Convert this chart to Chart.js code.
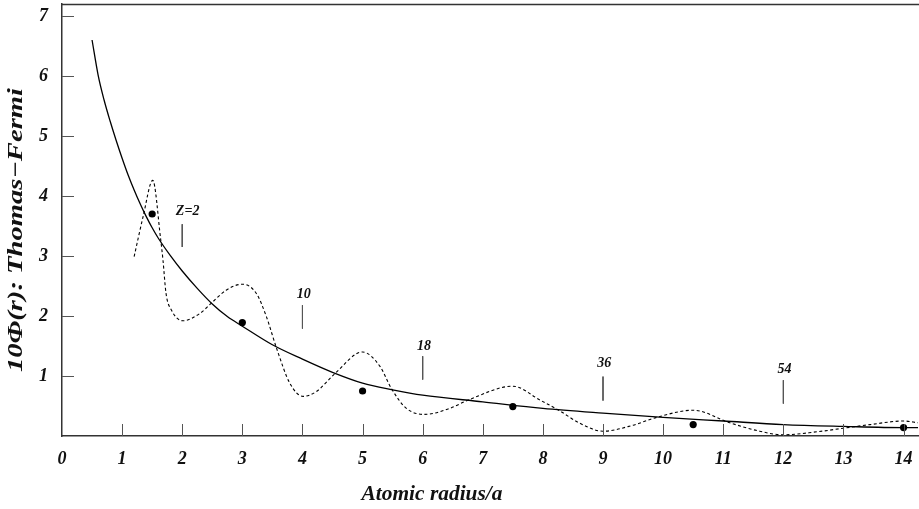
<!DOCTYPE html>
<html>
<head>
<meta charset="utf-8">
<script src="https://cdn.jsdelivr.net/npm/chart.js@4.4.1/dist/chart.umd.min.js"></script>
<style>
  html, body { margin: 0; padding: 0; background: #fff; }
</style>
</head>
<body>
<canvas id="chart" width="919" height="509"></canvas>
<script>
// Thomas-Fermi potential (solid)
const tfX = [0.5, 0.6, 0.7, 0.8, 0.9, 1.0, 1.1, 1.2, 1.3, 1.4, 1.5, 1.6, 1.8, 2.0, 2.25, 2.5, 2.75, 3.0, 3.5, 4.0, 4.5, 5.0, 5.5, 6.0, 7.0, 8.0, 9.0, 10.0, 11.0, 12.0, 13.0, 14.0, 14.24];
const tfY = [6.6, 6.02, 5.6, 5.25, 4.93, 4.63, 4.35, 4.1, 3.87, 3.66, 3.47, 3.3, 3.01, 2.75, 2.46, 2.2, 1.99, 1.83, 1.52, 1.28, 1.06, 0.88, 0.77, 0.68, 0.57, 0.46, 0.38, 0.31, 0.25, 0.19, 0.16, 0.14, 0.14];

// oscillating curve (dashed)
const oscX = [1.2, 1.35, 1.51, 1.64, 1.68, 1.73, 1.82, 2.01, 2.29, 2.48, 2.73, 3.0, 3.23, 3.4, 3.57, 3.79, 4.01, 4.23, 4.54, 5.0, 5.29, 5.48, 5.73, 6.03, 6.45, 6.76, 7.5, 7.95, 8.28, 8.6, 9.0, 9.5, 9.89, 10.5, 11.11, 11.56, 12.0, 12.56, 13.0, 13.44, 14.0, 14.24];
const oscY = [2.99, 3.66, 4.26, 3.29, 2.93, 2.38, 2.1, 1.92, 2.04, 2.21, 2.43, 2.53, 2.38, 1.99, 1.46, 0.88, 0.66, 0.74, 1.04, 1.4, 1.16, 0.79, 0.46, 0.36, 0.46, 0.6, 0.83, 0.6, 0.42, 0.22, 0.08, 0.18, 0.31, 0.43, 0.22, 0.09, 0.02, 0.07, 0.13, 0.19, 0.25, 0.22];

// atoms (dots)
const dotX = [1.5, 3, 5, 7.5, 10.5, 14];
const dotY = [3.7, 1.89, 0.75, 0.49, 0.19, 0.14];

// Z markers
const zLabels = ["Z=2", "10", "18", "36", "54"];
const zX = [2, 4, 6, 9, 12];
const zTop = [3.53, 2.18, 1.33, 0.99, 0.93];
const zBottom = [3.15, 1.79, 0.94, 0.59, 0.54];
const zLabelX = [2.09, 4.02, 6.02, 9.02, 12.02];
const zLabelY = [3.75, 2.36, 1.5, 1.21, 1.11];

const xTicks = [0, 1, 2, 3, 4, 5, 6, 7, 8, 9, 10, 11, 12, 13, 14];
const yTicks = [1, 2, 3, 4, 5, 6, 7];

const xTitle = "Atomic radius/a";
const yTitle = "10\u03A6(r): Thomas\u2212Fermi";

const FONT = '"Liberation Serif", "Times New Roman", serif';

const zip = (xs, ys) => xs.map((x, i) => ({ x: x, y: ys[i] }));

const markerSets = zX.map((x, i) => ({
  data: [{ x: x, y: zTop[i] }, { x: x, y: zBottom[i] }],
  showLine: true,
  borderColor: "#555",
  borderWidth: 1,
  pointRadius: 0
}));

// draw text stretched along its baseline to a given length
function stretchText(ctx, text, len) {
  const w = ctx.measureText(text).width;
  ctx.save();
  ctx.scale(len / w, 1);
  ctx.fillText(text, 0, 0);
  ctx.restore();
}

// inward ticks, top line, marker labels and axis titles
const decor = {
  id: "decor",
  afterDraw(chart) {
    const ctx = chart.ctx;
    const a = chart.chartArea;
    const xs = chart.scales.x, ys = chart.scales.y;
    ctx.save();
    ctx.strokeStyle = "#555";
    ctx.lineWidth = 1;
    ctx.beginPath();
    xTicks.forEach(v => {
      if (v === 0) return;
      const px = Math.round(xs.getPixelForValue(v)) + 0.5;
      ctx.moveTo(px, a.bottom);
      ctx.lineTo(px, a.bottom - 12);
    });
    yTicks.forEach(v => {
      const py = Math.round(ys.getPixelForValue(v)) + 0.5;
      ctx.moveTo(a.left, py);
      ctx.lineTo(a.left + 12, py);
    });
    ctx.stroke();

    ctx.strokeStyle = "#333";
    ctx.lineWidth = 1.5;
    ctx.beginPath();
    ctx.moveTo(a.left, a.top + 0.5);
    ctx.lineTo(chart.width, a.top + 0.5);
    ctx.stroke();

    ctx.fillStyle = "#111";
    ctx.textAlign = "center";
    ctx.textBaseline = "middle";
    ctx.font = "italic bold 14px " + FONT;
    zLabels.forEach((t, i) => {
      ctx.fillText(t, xs.getPixelForValue(zLabelX[i]), ys.getPixelForValue(zLabelY[i]));
    });

    ctx.font = "italic bold 20px " + FONT;
    ctx.save();
    ctx.translate(432, 495);
    stretchText(ctx, xTitle, 141);
    ctx.restore();

    ctx.font = "italic bold 21px " + FONT;
    ctx.translate(17, 230);
    ctx.rotate(-Math.PI / 2);
    stretchText(ctx, yTitle, 284);
    ctx.restore();
  }
};

const noPad = s => { s.paddingTop = 0; s.paddingBottom = 0; s.paddingLeft = 0; s.paddingRight = 0; };

new Chart(document.getElementById("chart"), {
  type: "scatter",
  data: {
    datasets: [
      {
        data: zip(tfX, tfY),
        showLine: true,
        borderColor: "#000",
        borderWidth: 1.3,
        pointRadius: 0,
        cubicInterpolationMode: "monotone"
      },
      {
        data: zip(oscX, oscY),
        showLine: true,
        borderColor: "#000",
        borderWidth: 1.1,
        borderDash: [3, 2.5],
        pointRadius: 0,
        cubicInterpolationMode: "monotone"
      },
      {
        data: zip(dotX, dotY),
        pointRadius: 3.6,
        pointBackgroundColor: "#000",
        pointBorderWidth: 0
      },
      ...markerSets
    ]
  },
  options: {
    responsive: false,
    animation: false,
    layout: { autoPadding: false, padding: { top: 4, right: 1, left: 0, bottom: 0 } },
    plugins: {
      legend: { display: false },
      tooltip: { enabled: false }
    },
    scales: {
      x: {
        type: "linear",
        min: 0,
        max: 14.24,
        afterBuildTicks: s => { s.ticks = xTicks.map(v => ({ value: v })); },
        afterFit: s => { s.height = 73; noPad(s); },
        grid: { display: false, drawTicks: false },
        border: { display: true, color: "#333", width: 1.5 },
        ticks: {
          autoSkip: false,
          maxRotation: 0,
          padding: 13,
          color: "#111",
          font: { family: FONT, size: 18, style: "italic", weight: "bold" }
        }
      },
      y: {
        type: "linear",
        min: 0,
        max: 7.2,
        afterBuildTicks: s => { s.ticks = yTicks.map(v => ({ value: v })); },
        afterFit: s => { s.width = 62; noPad(s); },
        grid: { display: false, drawTicks: false },
        border: { display: true, color: "#333", width: 1.5 },
        ticks: {
          padding: 14,
          color: "#111",
          font: { family: FONT, size: 18, style: "italic", weight: "bold" }
        }
      }
    }
  },
  plugins: [decor]
});
</script>
</body>
</html>
